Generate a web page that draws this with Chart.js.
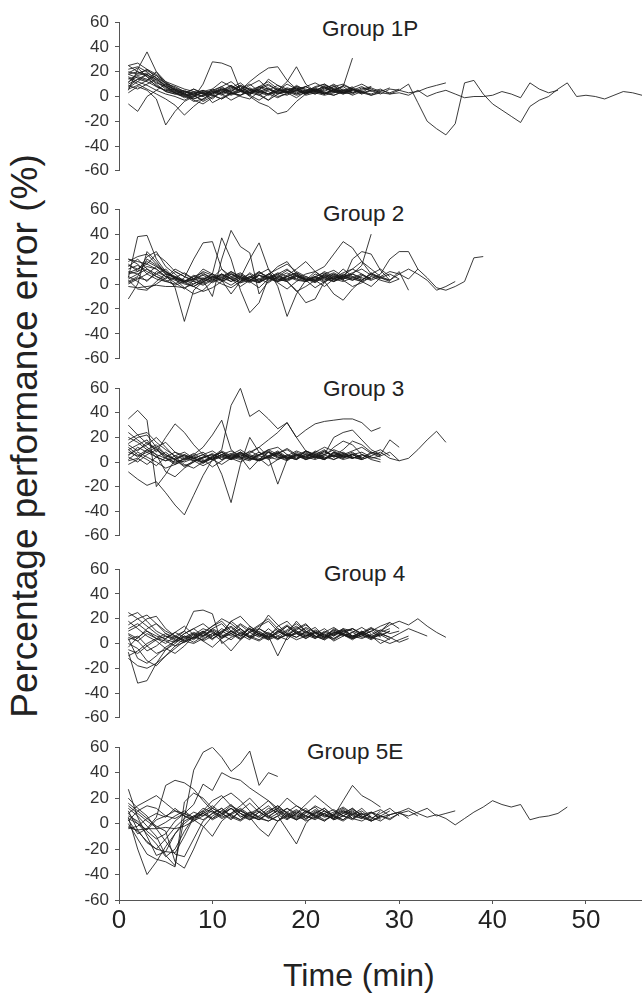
<!DOCTYPE html>
<html>
<head>
<meta charset="utf-8">
<script src="https://cdn.jsdelivr.net/npm/chart.js"></script>
<style>
  html, body { margin: 0; padding: 0; background: #fff; }
  body { width: 642px; height: 994px; position: relative; overflow: hidden;
         font-family: "Liberation Sans", Arial, sans-serif; color: #222; }
  canvas { position: absolute; left: 60px; }
  .lbl { position: absolute; white-space: nowrap; line-height: 1; }
  .grp { font-size: 22.5px; }
  #ytitle { position: absolute; left: 25px; top: 436px; width: 680px; height: 40px;
            line-height: 40px; font-size: 37px; text-align: center; white-space: nowrap;
            transform: translate(-50%, -50%) rotate(-90deg); }
</style>
</head>
<body>
<div class="lbl grp" style="left:322px;top:18px">Group 1P</div>
<div class="lbl grp" style="left:323px;top:203px">Group 2</div>
<div class="lbl grp" style="left:323px;top:378px">Group 3</div>
<div class="lbl grp" style="left:324px;top:563px">Group 4</div>
<div class="lbl grp" style="left:307px;top:741px">Group 5E</div>
<div class="lbl" style="left:283px;top:959px;font-size:32px">Time (min)</div>
<div id="ytitle">Percentage performance error (%)</div>
<script>
const timeTicks = [0, 10, 20, 30, 40, 50];
const errorTicks = [-60, -40, -20, 0, 20, 40, 60];
const firstMinute = 1;

const group1P = [
  [12,16,14,9,4,2,0,3,5,2,6,4,8,3,5,2,6,4,7,3,5,8,4,6,3,7,5,2,6,5,10,-5,-20,-26,-31,-22,11,13,2,-6,-11,-16,-21,-8,-3,0,6,11,0,1,0,-2,1,4,3,1],
  [8,14,18,12,6,3,1,4,2,5,8,3,1,6,4,2,5,3,8,6,4,2,5,3,6,4,1,3,2,3,1,5,0,3,5,2,-1,0,0,1,4,2,-1,11,6,3,5],
  [20,18,22,15,8,4,2,6,3,1,5,9,4,2,7,10,5,3,6,8,4,7,9,3,5,8,4,6,2,5,3,4,7,9,11],
  [5,22,36,20,10,5,2,-2,1,4,8,12,6,3,1,5,9,6,2,4,8,10,6,3,5],
  [3,8,5,-2,-23,-12,-4,0,3,5,2,-3,1,4,6,2,-1,3,5,8,4,2,6],
  [-6,-12,0,5,10,8,4,1,-3,2,6,3,0,-2,4,7,3,1,5,2,6,4,8,3,5,2],
  [15,10,6,2,-2,-7,-15,-8,-2,3,6,2,5,1,-3,2,4,6,3,5,7,3,1,4],
  [18,20,16,11,8,4,2,-1,10,28,27,24,5,3,8,6,2,4,7,3,5,2,6,4,8],
  [10,14,12,8,5,3,1,2,4,6,3,8,5,12,18,23,24,13,6,3,5,8,4,2,6,3,5],
  [25,20,17,14,9,5,3,6,2,4,1,5,8,3,6,9,5,12,24,10,4,2,6,8,3,5,7,4],
  [7,12,9,5,2,0,-3,1,3,-2,4,2,6,0,-5,-8,-14,-12,-4,2,5,3,1,4,6,3,8],
  [14,17,19,15,11,7,4,2,0,3,5,1,4,7,3,6,2,5,8,4,6,3,5,8,31],
  [22,24,20,13,7,3,0,-2,1,4,2,6,9,5,3,1,4,7,5,2,4,9,6,3,7,4,2,5,3,6],
  [16,12,18,10,4,2,5,1,-4,0,3,7,11,5,1,-3,2,6,4,8,11,7,3,5,1,4],
  [9,6,10,14,8,3,-1,2,5,1,-2,3,6,10,4,2,7,3,-1,4,2,5,8,10,6,3,1,4,7],
  [18,15,13,20,12,6,4,3,0,6,12,8,4,2,5,14,9,4,1,3,6,2,4,3,2,6,8],
  [11,19,21,17,9,6,2,0,4,-5,-1,3,1,5,8,4,0,2,5,3,7,10,5,2,4],
  [25,27,22,18,12,9,6,4,2,1,-2,2,4,9,13,6,3,4,2,5,3,1,3,5,7,10,6,3],
  [6,9,13,17,11,5,1,-4,-2,3,7,4,9,6,2,-3,5,10,6,1,3,7,4,9,6,2,5],
  [19,23,16,8,5,6,3,-3,-6,-1,4,9,5,1,8,12,6,3,9,5,2,6,10,5,3]
];

const group2 = [
  [5,38,39,20,10,4,2,6,3,8,5,2,7,4,1,5,9,6,3,2,8,5,4,7,3,6],
  [-12,0,26,18,8,-3,-30,-5,2,6,3,8,4,1,7,3,5,9,4,2,6,3,8,5],
  [12,15,10,6,2,0,5,20,33,34,12,4,-2,3,7,5,2,6,9,4,3,6,2,5,8,4],
  [8,10,14,12,6,4,1,-2,3,-10,20,43,30,25,-8,2,6,4,8,3,5,1,7,4,6,3,9,5],
  [2,6,20,15,9,5,3,0,4,8,37,20,-5,-23,-15,5,8,3,6,2,4,7,3,5],
  [18,22,24,16,10,6,3,2,0,4,7,2,5,20,33,12,-2,-26,-8,3,6,9,4,2,5,8,3],
  [-2,-3,-2,-1,-2,-2,-3,0,4,6,2,5,8,3,1,6,4,2,-5,-15,-12,2,6,4,8,5,3,6,10,8,12,8,3,-5,-2,2],
  [10,8,12,6,3,-1,2,7,4,1,5,9,3,6,2,8,5,3,7,4,1,6,9,5,3,7,4,8,20,26,26,12,5,-3,-5,-2,2,21,22],
  [15,12,18,14,8,5,2,4,7,3,6,10,5,2,4,8,3,6,9,5,2,7,4,6,8,15,40],
  [20,18,16,12,6,3,0,-2,2,5,8,4,1,3,7,5,2,6,4,8,10,14,24,34,29,18,8,5,3,10,-5],
  [0,4,8,14,10,5,2,6,9,4,0,-3,2,6,3,8,12,16,10,6,3,-2,4,8,5,2,6,3,1,4],
  [6,2,-4,0,5,12,8,4,10,7,3,-1,4,8,2,5,3,7,12,18,10,4,2,6,9,12,7,4],
  [14,20,12,8,4,10,6,2,-1,3,8,4,6,2,10,5,1,-4,2,6,3,8,5,12,6,3,8,5,2],
  [3,-4,-5,2,8,6,1,4,12,8,3,-8,2,5,10,4,7,2,6,3,-3,2,5,9,12,18,12,6,3,8,4,12],
  [20,16,8,4,2,5,9,4,1,6,3,8,5,2,-3,4,8,12,6,4,2,5,8,3,-2,1,6],
  [9,12,16,24,18,10,6,3,5,2,8,4,1,5,9,6,2,4,7,3,5,10,6,3,20,26,24,11,3],
  [1,5,3,8,12,4,-3,-8,-5,2,4,10,6,3,8,12,4,2,-6,-2,3,8,11,6,4,2,-2,5,8,4],
  [16,10,22,26,14,8,2,-2,-6,-3,2,6,9,4,2,7,14,18,8,3,6,2,-8,-13,-4,3,8,12,6],
  [4,8,2,10,6,1,-4,3,8,5,12,6,2,9,4,1,6,11,7,3,10,5,2,7,12,8,4]
];

const group3 = [
  [35,42,34,-20,-10,2,5,3,0,4,8,2,6,3,1,5,9,4,2,6,3,8,5,2,4],
  [30,22,15,10,5,2,-3,0,4,6,2,5,8,3,1,4,7,10,5,2,6,3,8,4,6,2,5],
  [-8,-14,-19,-16,-25,-35,-43,-27,-11,2,6,3,0,4,8,2,6,3,5,9,4,2,6,3,7,4],
  [10,14,18,8,20,31,24,14,6,2,-2,3,7,4,1,5,8,3,6,2,5,9,4,6,3],
  [5,12,8,4,1,3,6,2,-1,4,10,46,60,37,42,35,27,32,20,9,6,10,4,7,3,5],
  [15,20,22,12,6,2,-4,1,4,6,-10,-33,-2,20,8,4,2,6,3,9,5,2,7,4,6,3,8,5],
  [2,8,4,0,-5,-2,3,6,12,22,34,10,4,2,6,8,3,5,2,7,4,9,5,3,6,8,4],
  [20,16,10,4,1,5,8,3,6,2,9,5,3,7,12,4,-18,2,6,4,8,12,9,5,3,6,4,2],
  [8,5,10,14,6,2,0,3,6,9,4,2,5,8,12,18,24,32,20,26,31,33,34,35,35,32,25,28],
  [4,0,6,10,3,-2,1,5,8,2,4,7,3,1,6,9,4,2,5,8,3,6,10,7,4,2,5,8,3,1,3,10,18,25,16],
  [12,6,2,-3,4,8,5,1,3,7,2,6,4,9,5,3,8,2,6,4,7,3,5,10,17,14,8,6,18,12],
  [1,3,-2,4,8,2,6,3,0,5,8,4,2,6,3,-3,2,5,9,6,4,2,8,5,3,6,2,0],
  [24,18,12,6,3,0,2,5,1,4,8,3,6,2,5,10,6,3,8,4,2,5,12,17,14,6,3,5,8,1],
  [6,10,14,20,12,4,-2,-5,0,3,6,9,4,-6,2,8,5,3,7,2,4,6,20,24,26,18,10,6],
  [18,22,24,16,10,5,2,4,-1,3,6,4,8,3,2,5,7,4,2,9,6,3,5,8,4,2],
  [-2,2,10,6,-8,-12,-5,0,4,2,6,3,8,5,1,4,7,11,6,3,5,2,8,4,6,3,7,10,5],
  [10,4,8,12,16,8,3,1,-3,1,5,2,7,4,6,10,12,6,3,5,8,4,2,6,9,12,7,4],
  [14,9,16,11,4,-1,3,7,2,-4,1,6,10,5,2,8,4,1,6,3,9,6,2,5,8,3]
];

const group4 = [
  [-7,-32,-30,-16,-5,2,6,4,8,3,10,6,12,4,8,5,10,7,3,6,9,5,8,11,6,4,7],
  [-12,-18,-20,-16,-10,-4,2,5,3,8,6,10,4,9,12,7,3,8,5,10,6,4,9,7,5,8],
  [22,25,18,10,6,4,10,26,27,24,0,5,8,12,6,3,9,14,8,5,10,7,4,8,6,9,5,7,10],
  [15,20,23,16,8,3,1,5,10,6,12,8,4,14,9,6,-10,5,8,12,6,3,9,7,4,10,6,8,5],
  [5,2,8,4,0,6,10,4,8,14,18,10,6,12,8,4,10,15,9,6,11,7,4,9,12,8,5,10,15,18,15,20,14,9,5],
  [-5,-8,-2,3,6,2,8,12,6,10,4,8,15,9,5,12,6,3,10,7,4,9,13,8,5,10,6,0,4,8,12,9,6],
  [0,-4,-14,-18,-10,-2,4,8,5,12,8,18,12,6,10,5,8,14,8,4,9,6,11,7,3,8,12,10,17],
  [10,14,20,22,12,6,2,0,4,8,2,-6,3,10,15,20,12,6,9,4,8,12,6,10,5,7,3,8,5,1,4],
  [3,6,-2,-8,-5,0,6,3,9,14,20,16,10,5,8,3,6,11,16,10,4,8,2,6,9,5,7,11,8,10],
  [18,12,6,2,-4,-8,-2,6,10,4,9,13,7,3,12,23,15,8,5,9,13,6,3,8,12,7,10,14,17,12],
  [-10,-6,0,4,8,5,2,7,12,9,5,10,16,11,6,9,4,7,11,15,9,5,8,12,6,9,4,7,3],
  [8,4,12,16,10,6,3,8,2,6,10,14,8,5,2,7,12,8,18,10,6,3,7,10,12,8,5,3,0,3,6],
  [12,16,10,4,2,-2,1,5,9,4,8,18,22,14,7,4,10,6,8,13,9,5,11,7,4,8,12,6,10],
  [25,20,14,8,3,1,5,9,6,12,16,8,3,9,14,18,10,6,12,16,8,4,10,6,9,13,8],
  [-3,5,10,6,4,9,14,7,2,-3,4,10,6,12,8,5,14,18,10,6,9,5,12,8,4,6,10,5],
  [4,-12,-16,-10,-3,2,8,12,16,10,5,8,12,6,3,8,4,10,14,8,5,9,6,12,10,7,4,9,12],
  [7,2,-6,-2,4,9,5,1,6,11,7,3,9,5,12,8,4,7,13,9,5,10,7,11,6,9,13,8]
];

const group5E = [
  [8,0,-5,3,6,10,8,5,12,9,4,7,11,6,3,8,12,9,5,10,7,3,6,9,4,8,2,5,7,9,12,8,5,7,4,-1,4,9,13,18,15,13,15,3,5,6,8,13],
  [27,5,-10,-25,-22,-8,2,6,10,4,8,12,6,3,9,5,2,7,11,6,4,8,3,6,10,5,2,6,4,8,6,9,12,6,8,10],
  [5,-20,-40,-30,-18,-8,0,6,3,8,12,5,2,7,10,4,8,12,6,3,9,5,7,11,4,2,6],
  [0,-12,-24,-28,-30,-34,17,24,20,12,8,14,10,6,3,8,12,5,9,6,3,8,11,6,4,9],
  [10,-5,-15,-20,-22,-23,-10,5,8,4,10,15,8,3,6,12,9,4,7,2,5,10,6,3,8],
  [3,-8,-4,5,30,34,32,27,18,10,6,12,8,4,9,14,7,3,8,12,5,2,7,10,6,4,9,3],
  [12,6,-2,-10,-25,-33,5,42,56,60,52,41,47,57,30,40,37],
  [6,2,-6,-12,-8,2,8,15,31,26,40,36,34,28,23,18,12,20,14,9,6,10,4,8,12,6],
  [-4,-2,4,8,5,12,6,3,9,14,8,4,10,6,12,18,10,6,3,8,14,10,6,18,30,22,18,13],
  [14,8,2,-3,1,6,10,4,8,3,7,12,5,9,4,2,6,-5,-16,0,8,12,6,3,9,5,8,11,6],
  [-3,-5,-4,-4,-3,-4,-2,2,6,10,5,8,12,7,3,9,14,8,4,10,6,2,8,12,7,4,9,6,3,8,10,6],
  [2,10,14,12,6,4,8,3,-2,-10,2,8,14,20,12,6,10,4,8,15,22,16,10,6,3,8,5,2,7,9,4],
  [20,12,6,-4,-14,-24,-26,-12,2,8,12,6,3,9,5,10,14,8,3,6,11,7,4,8,12,6,3,10],
  [8,14,18,22,16,10,6,2,8,12,20,24,18,10,5,2,6,12,8,4,10,6,9,13,8,5,2,6,10],
  [4,0,-8,-16,-26,-20,-6,5,10,18,22,14,8,5,-4,-10,2,6,10,4,8,12,5,2,7,10,4,8,12,6],
  [16,10,4,-2,-6,-30,-35,-20,-3,6,10,7,3,8,12,6,2,9,14,10,5,8,3,6,11,7,9,4],
  [-2,-6,-14,-20,-12,-3,4,9,6,12,8,3,10,16,9,5,11,7,3,9,13,6,4,10,7,12,5]
];

const groups = [group1P, group2, group3, group4, group5E];

// zone de tracé de chaque panneau (px dans la page)
const frames = [
  { top: 18, bottom: 175 },
  { top: 205, bottom: 363 },
  { top: 384, bottom: 540 },
  { top: 565, bottom: 722 },
  { top: 743, bottom: 900 }
];

const FONT = '"Liberation Sans", Arial, sans-serif';
const axisColor = '#555';
const lineColor = 'rgba(25,25,25,0.85)';

groups.forEach((series, gi) => {
  const f = frames[gi];
  const last = gi === groups.length - 1;
  const top = f.top - 12;
  const canvas = document.createElement('canvas');
  canvas.width = 582;
  canvas.height = last ? 994 - top : (f.bottom - f.top) + 24;
  canvas.style.top = top + 'px';
  document.body.appendChild(canvas);

  new Chart(canvas, {
    type: 'line',
    data: {
      datasets: series.map(vals => ({
        data: vals.map((v, i) => ({ x: firstMinute + i, y: v })),
        borderColor: lineColor,
        borderWidth: 1,
        pointRadius: 0,
        tension: 0,
        fill: false
      }))
    },
    options: {
      responsive: false,
      animation: false,
      events: [],
      layout: { padding: { top: 12, bottom: last ? 0 : 12, left: 0, right: 0 } },
      plugins: { legend: { display: false }, tooltip: { enabled: false } },
      scales: {
        x: {
          type: 'linear', min: 0, max: 56,
          display: last,
          afterBuildTicks: s => { s.ticks = timeTicks.map(v => ({ value: v })); },
          afterFit: s => { s.height = last ? 94 : 0; },
          grid: { drawOnChartArea: false, tickLength: 4, color: axisColor },
          border: { display: true, color: axisColor },
          ticks: { color: '#222', padding: 1, maxRotation: 0, font: { family: FONT, size: 26 } }
        },
        y: {
          min: -60, max: 60,
          afterBuildTicks: s => { s.ticks = errorTicks.map(v => ({ value: v })); },
          afterFit: s => { s.width = 59; },
          grid: { drawOnChartArea: false, tickLength: 4, color: axisColor },
          border: { display: true, color: axisColor },
          ticks: { color: '#333', padding: 6, autoSkip: false, font: { family: FONT, size: 17 } }
        }
      }
    }
  });
});
</script>
</body>
</html>
